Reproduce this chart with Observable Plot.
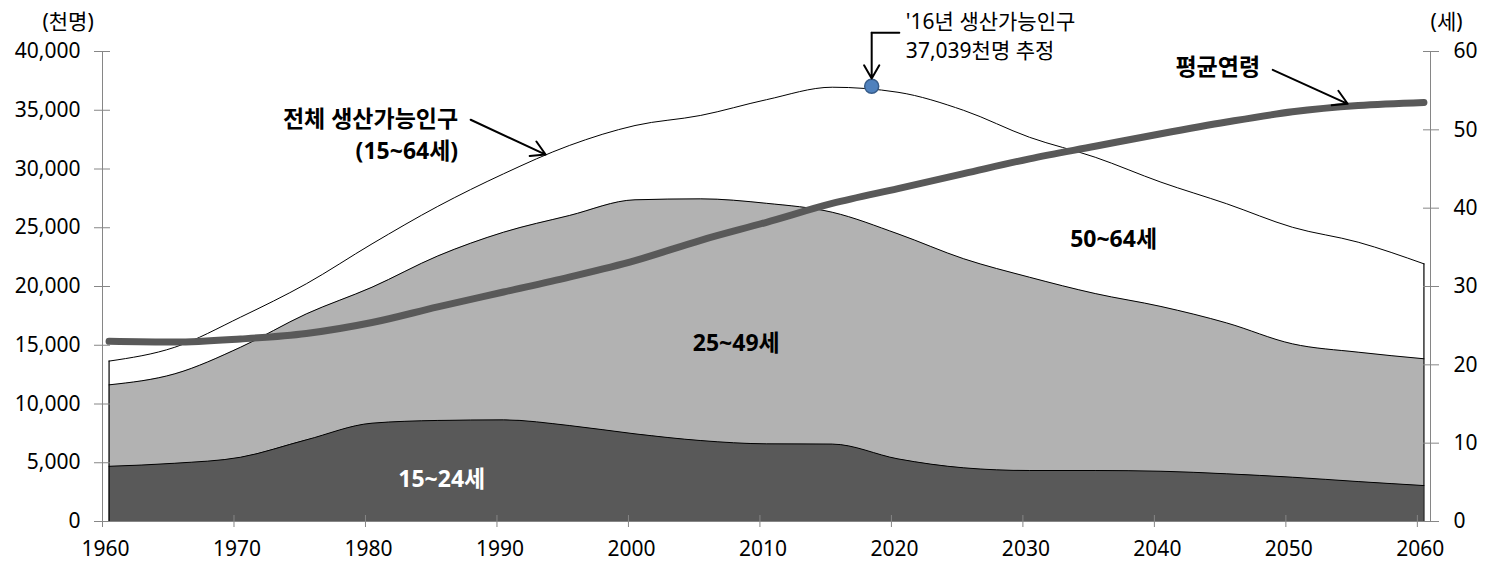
<!DOCTYPE html>
<html><head><meta charset="utf-8">
<script src="https://cdn.jsdelivr.net/npm/d3@7"></script>
<script src="https://cdn.jsdelivr.net/npm/@observablehq/plot@0.6"></script>
<style>body{margin:0;background:#fff;} #chart{width:1495px;height:581px;}</style>
</head><body><div id="chart"></div>
<script>
// ---- data ----
const years    = [1960,1965,1970,1975,1980,1985,1990,1995,2000,2005,2010,2015,2020,2025,2030,2035,2040,2045,2050,2055,2060];
const pop15_24 = [4700,4960,5470,6950,8370,8600,8650,8170,7460,6890,6610,6590,5330,4570,4340,4340,4280,4060,3770,3400,3060];
const pop25_49 = [6930,7610,9360,10720,11570,14000,15970,17870,19920,20570,20470,19730,19150,17790,16450,15060,14020,12840,11350,11010,10790];
const pop50_64 = [2020,2260,2560,2560,3690,4220,4970,5960,6320,7100,8820,10640,12050,12630,11910,11600,10580,10140,9920,9360,8080];
const avgAge   = [23.0,22.9,23.3,24.0,25.4,27.4,29.3,31.2,33.3,35.9,38.2,40.6,42.5,44.4,46.3,47.9,49.5,51.0,52.3,53.1,53.5];
const peakYear = 2018, peakValue = 37039;
const xTickLabels = [1960,1970,1980,1990,2000,2010,2020,2030,2040,2050,2060];
const popTicks = [0,5000,10000,15000,20000,25000,30000,35000,40000];
const ageTicks = [0,10,20,30,40,50,60];
const POP_MAX = 40000, AGE_MAX = 60;

const rows = years.map((year, i) => {
  const a = pop15_24[i], b = a + pop25_49[i], t = b + pop50_64[i];
  return {year, a, b, t, age: avgAge[i] * POP_MAX / AGE_MAX};
});
const first = rows[0], last = rows[rows.length - 1];
const FONT = "'Noto Sans', 'Noto Sans CJK KR', sans-serif";
const AXIS = "#868686";
const curve = "monotone-x";
const BOLD = 23;

const chart = Plot.plot({
  width: 1495, height: 581,
  marginLeft: 102, marginRight: 65, marginTop: 51, marginBottom: 60,
  style: {fontFamily: FONT, fontSize: "21px", background: "#fff", overflow: "visible"},
  x: {domain: [1959.5, 2060.5], axis: null},
  y: {domain: [0, POP_MAX], axis: null},
  marks: [
    // stacked areas
    Plot.areaY(rows, {x: "year", y1: 0, y2: "a", fill: "#595959", curve}),
    Plot.areaY(rows, {x: "year", y1: "a", y2: "b", fill: "#b2b2b2", curve}),
    Plot.areaY(rows, {x: "year", y1: "b", y2: "t", fill: "#ffffff", curve}),
    Plot.lineY(rows, {x: "year", y: "a", stroke: "black", strokeWidth: 1, curve}),
    Plot.lineY(rows, {x: "year", y: "b", stroke: "black", strokeWidth: 1, curve}),
    Plot.lineY(rows, {x: "year", y: "t", stroke: "black", strokeWidth: 1, curve}),
    Plot.ruleX([first], {x: "year", y1: 0, y2: "t", stroke: "black", strokeWidth: 1.2}),
    Plot.ruleX([last], {x: "year", y1: 0, y2: "t", stroke: "black", strokeWidth: 1.2}),
    // axis lines
    Plot.ruleX([1959.5, 2060.5], {y1: 0, y2: POP_MAX, stroke: AXIS}),
    Plot.ruleY([0], {x1: 1959.5, x2: 2060.5, stroke: AXIS}),
    // left axis
    Plot.axisY(popTicks, {anchor: "left", tickSize: 16, dx: 8, tickPadding: 14, stroke: AXIS, fill: "black",
      tickFormat: d => d3.format(",")(d), fontSize: 21}),
    // right axis (age)
    Plot.axisY(ageTicks.map(a => a * POP_MAX / AGE_MAX), {anchor: "right", tickSize: 16, dx: -8, tickPadding: 15,
      stroke: AXIS, fill: "black", tickFormat: d => Math.round(d * AGE_MAX / POP_MAX), fontSize: 21}),
    // x axis: ticks at category boundaries
    Plot.axisX(xTickLabels.map(y => y - 0.5), {tickSize: 12, dy: -6, stroke: AXIS, tickFormat: () => ""}),
    Plot.axisX(xTickLabels.map(y => y - 0.5), {tickSize: 0, tickPadding: 20, dx: 3, fill: "black",
      tickFormat: d => String(Math.round(d + 0.5)), fontSize: 21}),
    // average age line
    Plot.lineY(rows, {x: "year", y: "age", stroke: "#595959", strokeWidth: 7, strokeLinecap: "round", curve}),
    // peak dot
    Plot.dot([{year: peakYear, v: peakValue}], {x: "year", y: "v", r: 7, fill: "#4f81bd", stroke: "#385d8a", strokeWidth: 1.5}),
    // axis unit labels
    Plot.text(["(천명)"], {frameAnchor: "top-left", lineAnchor: "middle", dx: -60, dy: -29, fontSize: 21, fill: "black"}),
    Plot.text(["(세)"], {frameAnchor: "top-right", lineAnchor: "middle", dx: 32, dy: -29, fontSize: 21, fill: "black"}),
    // area labels
    Plot.text([{x: 1985.3, y: 3570, t: "15~24세"}], {x: "x", y: "y", text: "t", fill: "white", fontWeight: "bold", fontSize: BOLD}),
    Plot.text([{x: 2007.7, y: 15150, t: "25~49세"}], {x: "x", y: "y", text: "t", fill: "black", fontWeight: "bold", fontSize: BOLD}),
    Plot.text([{x: 2036.4, y: 24000, t: "50~64세"}], {x: "x", y: "y", text: "t", fill: "black", fontWeight: "bold", fontSize: BOLD}),
    // total annotation (two lines in one text)
    Plot.text([{x: 1986.55, y: 33060, t: "전체 생산가능인구\n(15~64세)"}], {x: "x", y: "y", text: "t", textAnchor: "end",
      lineAnchor: "middle", lineHeight: 1.36, fontWeight: "bold", fontSize: BOLD}),
    Plot.arrow([{x1: 1987.5, y1: 34190, x2: 1993.2, y2: 31230}], {x1: "x1", y1: "y1", x2: "x2", y2: "y2", stroke: "black", strokeWidth: 2, headLength: 12, insetStart: 0, insetEnd: 0}),
    // average age annotation
    Plot.text([{x: 2041.1, y: 38660, t: "평균연령"}], {x: "x", y: "y", text: "t", textAnchor: "start", fontWeight: "bold", fontSize: BOLD}),
    Plot.arrow([{x1: 2048.5, y1: 38440, x2: 2054.2, y2: 35550}], {x1: "x1", y1: "y1", x2: "x2", y2: "y2", stroke: "black", strokeWidth: 2, headLength: 12, insetStart: 0, insetEnd: 0}),
    // peak callout
    Plot.text([{x: 2020.6, y: 41450, t: "'16년 생산가능인구\n37,039천명 추정"}], {x: "x", y: "y", text: "t", textAnchor: "start",
      lineAnchor: "middle", lineHeight: 1.36, fontSize: 21}),
    Plot.line([{x: 2020.1, y: 41590}, {x: peakYear, y: 41590}], {x: "x", y: "y", stroke: "black", strokeWidth: 2}),
    Plot.arrow([{x1: peakYear, y1: 41590, x2: peakYear, y2: 37700}], {x1: "x1", y1: "y1", x2: "x2", y2: "y2", stroke: "black", strokeWidth: 2, headLength: 12, insetStart: 0, insetEnd: 0})
  ]
});
document.getElementById("chart").appendChild(chart);
</script>
</body></html>
